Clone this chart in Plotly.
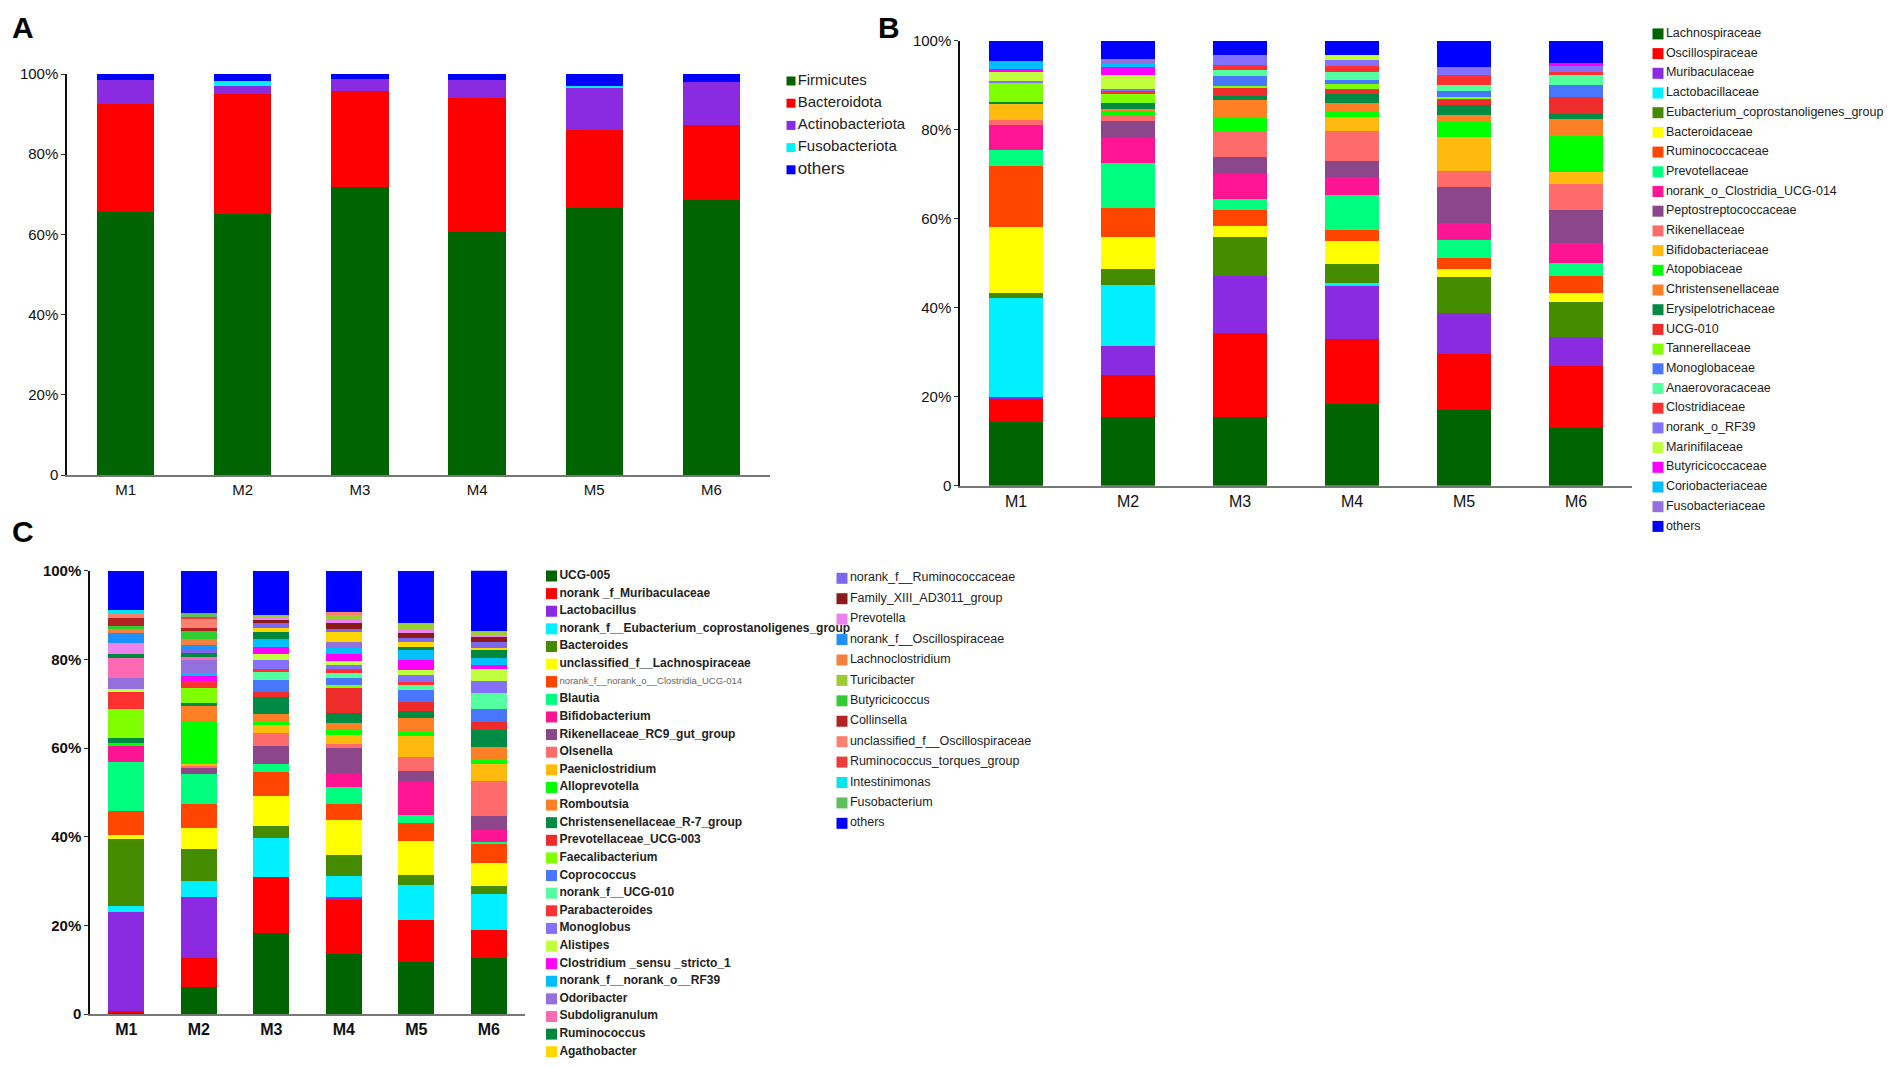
import plotly.graph_objects as go

samples = ["M1", "M2", "M3", "M4", "M5", "M6"]

# ---------------- Panel A (phylum) ----------------
a_names = ["Firmicutes", "Bacteroidota", "Actinobacteriota", "Fusobacteriota", "others"]
a_colors = ["#006400", "#FF0000", "#8A2BE2", "#00F0FF", "#0000FF"]
a_firmicutes = [65.6, 65.0, 71.7, 60.7, 66.5, 68.7]
a_bacteroidota = [27.0, 29.9, 24.1, 33.4, 19.5, 18.6]
a_actinobacteriota = [5.8, 2.0, 3.0, 4.4, 10.7, 10.8]
a_fusobacteriota = [0.0, 1.3, 0.0, 0.0, 0.4, 0.0]
a_others = [1.6, 1.8, 1.2, 1.5, 2.9, 1.9]

# ---------------- Panel B (family) ----------------
b_names = ["Lachnospiraceae", "Oscillospiraceae", "Muribaculaceae", "Lactobacillaceae",
           "Eubacterium_coprostanoligenes_group", "Bacteroidaceae", "Ruminococcaceae",
           "Prevotellaceae", "norank_o_Clostridia_UCG-014", "Peptostreptococcaceae",
           "Rikenellaceae", "Bifidobacteriaceae", "Atopobiaceae", "Christensenellaceae",
           "Erysipelotrichaceae", "UCG-010", "Tannerellaceae", "Monoglobaceae",
           "Anaerovoracaceae", "Clostridiaceae", "norank_o_RF39", "Marinifilaceae",
           "Butyricicoccaceae", "Coriobacteriaceae", "Fusobacteriaceae", "others"]
b_colors = ["#006400", "#FF0000", "#8A2BE2", "#00F0FF", "#458B00", "#FFFF00", "#FF4500",
            "#00FF7F", "#FF1493", "#8B4789", "#FF6A6A", "#FFB90F", "#00FF00", "#FF7F24",
            "#008B45", "#EE2C2C", "#7FFF00", "#4876FF", "#54FF9F", "#FF3030", "#8470FF",
            "#C0FF3E", "#FF00FF", "#00BFFF", "#9370DB", "#0000FF"]
b_m1 = [14.4, 5.0, 0.5, 22.2, 1.1, 15.0, 13.6, 3.6, 5.6, 0, 1.1, 3.7, 0, 0, 0.5, 0, 4.2, 0, 0, 0, 0.5, 2.0, 0.7, 1.7, 0, 4.6]
b_m2 = [15.5, 9.4, 6.6, 13.7, 3.4, 7.2, 6.6, 10.1, 5.6, 3.9, 1.1, 0, 1.0, 0.5, 1.3, 0, 2.2, 0, 0, 0.7, 0.4, 3.2, 1.8, 0.6, 1.2, 4.0]
b_m3 = [15.4, 19.0, 12.7, 0, 8.7, 2.5, 3.7, 2.5, 5.6, 3.7, 5.8, 0, 3.0, 4.0, 1.0, 1.9, 0.4, 2.2, 1.3, 1.1, 2.2, 0, 0, 0, 0, 3.3]
b_m4 = [18.4, 14.5, 12.0, 0.7, 4.3, 5.1, 2.5, 7.9, 3.9, 3.6, 6.7, 3.3, 1.1, 2.1, 2.0, 1.1, 1.0, 0.9, 1.9, 1.4, 1.2, 1.1, 0, 0, 0, 3.3]
b_m5 = [17.0, 12.5, 9.2, 0, 8.3, 1.8, 2.3, 4.1, 3.8, 8.2, 3.5, 7.7, 3.3, 1.6, 2.2, 1.3, 0.6, 1.4, 1.3, 2.2, 1.9, 0, 0, 0, 0, 5.8]
b_m6 = [13.0, 14.0, 6.5, 0, 7.8, 1.9, 3.9, 2.9, 4.5, 7.5, 5.8, 2.8, 8.0, 3.7, 1.2, 3.9, 0, 2.7, 2.1, 0.8, 1.6, 0, 0.3, 0, 0, 5.1]

# ---------------- Panel C (genus) ----------------
c_names = ["UCG-005", "norank _f_Muribaculaceae", "Lactobacillus",
           "norank_f__Eubacterium_coprostanoligenes_group", "Bacteroides",
           "unclassified_f__Lachnospiraceae", "norank_f__norank_o__Clostridia_UCG-014",
           "Blautia", "Bifidobacterium", "Rikenellaceae_RC9_gut_group", "Olsenella",
           "Paeniclostridium", "Alloprevotella", "Romboutsia", "Christensenellaceae_R-7_group",
           "Prevotellaceae_UCG-003", "Faecalibacterium", "Coprococcus", "norank_f__UCG-010",
           "Parabacteroides", "Monoglobus", "Alistipes", "Clostridium _sensu _stricto_1",
           "norank_f__norank_o__RF39", "Odoribacter", "Subdoligranulum", "Ruminococcus",
           "Agathobacter", "norank_f__Ruminococcaceae", "Family_XIII_AD3011_group",
           "Prevotella", "norank_f__Oscillospiraceae", "Lachnoclostridium", "Turicibacter",
           "Butyricicoccus", "Collinsella", "unclassified_f__Oscillospiraceae",
           "Ruminococcus_torques_group", "Intestinimonas", "Fusobacterium", "others"]
c_colors = ["#006400", "#FF0000", "#8A2BE2", "#00F0FF", "#458B00", "#FFFF00", "#FF4500",
            "#00FF7F", "#FF1493", "#8B4789", "#FF6A6A", "#FFB90F", "#00FF00", "#FF7F24",
            "#008B45", "#EE2C2C", "#7FFF00", "#4876FF", "#54FF9F", "#FF3030", "#8470FF",
            "#C0FF3E", "#FF00FF", "#00BFFF", "#9370DB", "#FF69B4", "#00873E", "#FFD700",
            "#7B68EE", "#8B1A1A", "#EE82EE", "#1E90FF", "#F4813F", "#9ACD32", "#32CD32",
            "#B22222", "#FA8072", "#EE3B3B", "#00E5EE", "#5FBF5F", "#0000FF"]
c_m1 = [0.2, 0.5, 22.4, 1.3, 15.0, 1.0, 5.5, 11.0, 3.6, 0, 0, 0, 0.7, 0, 1.0, 0, 6.6, 0, 0, 3.9,
        0, 0.7, 0, 0, 2.4, 4.5, 1.0, 0, 0, 0, 2.4, 2.3, 0.8, 0, 0.8, 1.8, 0.9, 0, 0.9, 0, 8.8]
c_m2 = [6.0, 6.6, 13.7, 3.8, 7.2, 4.6, 5.5, 6.7, 0, 1.3, 0.5, 0.5, 9.7, 3.4, 0.6, 0, 3.4, 0, 0, 1.7,
        0, 0, 1.3, 0.4, 3.2, 0.4, 1.0, 0, 0.6, 0, 0, 1.1, 1.3, 0, 2.0, 0.5, 2.0, 0.5, 0, 1.0, 9.5]
c_m3 = [18.2, 12.8, 0, 8.8, 2.6, 6.8, 5.5, 1.6, 0, 4.2, 3.0, 1.9, 0.4, 1.9, 3.8, 1.1, 0, 2.8, 2.0, 0.4,
        2.1, 1.4, 1.4, 1.9, 0, 0, 1.5, 1.0, 1.1, 0.8, 0.4, 0, 0, 0.7, 0, 0, 0, 0, 0, 0, 9.9]
c_m4 = [13.5, 12.2, 0.6, 4.9, 4.7, 7.9, 3.6, 3.7, 3.0, 5.8, 1.0, 2.0, 1.1, 1.7, 2.2, 5.9, 0.4, 1.7, 1.1, 0.8,
        1.0, 0.9, 1.6, 1.3, 1.3, 0, 0, 2.3, 0.6, 1.5, 0.6, 0, 0, 1.1, 0, 0, 0.6, 0, 0, 0, 9.4]
c_m5 = [11.8, 9.3, 0, 8.1, 2.2, 7.6, 4.0, 1.9, 7.5, 2.4, 3.1, 4.9, 0.9, 3.0, 1.7, 2.0, 0, 2.6, 1.4, 0.4,
        1.7, 1.1, 2.3, 2.1, 0, 0, 0.8, 1.1, 1.0, 1.0, 0.7, 0, 0, 1.5, 0, 0, 0, 0, 0, 0, 11.9]
c_m6 = [12.6, 6.3, 0, 8.1, 1.9, 5.1, 4.3, 0.5, 2.6, 3.2, 8.0, 3.9, 0.8, 3.0, 3.8, 1.7, 0, 3.0, 3.5, 0,
        2.8, 2.8, 0.8, 1.6, 0, 0, 1.7, 0.5, 1.4, 1.1, 0.5, 0, 0, 0.8, 0, 0, 0, 0, 0, 0, 14.0]
c_col1_count = 28

ytick_vals = [0, 20, 40, 60, 80, 100]
ytick_text = ["0", "20%", "40%", "60%", "80%", "100%"]

FONT = "Liberation Sans, Arial, sans-serif"
W, H = 1904, 1067

fig = go.Figure()

# ---- bars ----
a_series = [a_firmicutes, a_bacteroidota, a_actinobacteriota, a_fusobacteriota, a_others]
for name, col, vals in zip(a_names, a_colors, a_series):
    fig.add_trace(go.Bar(x=samples, y=vals, name=name, marker=dict(color=col, line=dict(width=0)),
                         width=0.49, xaxis="x", yaxis="y", showlegend=False))

b_samples = [b_m1, b_m2, b_m3, b_m4, b_m5, b_m6]
for i, (name, col) in enumerate(zip(b_names, b_colors)):
    vals = [s[i] for s in b_samples]
    fig.add_trace(go.Bar(x=samples, y=vals, name=name, marker=dict(color=col, line=dict(width=0)),
                         width=0.49, xaxis="x2", yaxis="y2", showlegend=False))

c_samples = [c_m1, c_m2, c_m3, c_m4, c_m5, c_m6]
for i, (name, col) in enumerate(zip(c_names, c_colors)):
    vals = [s[i] for s in c_samples]
    fig.add_trace(go.Bar(x=samples, y=vals, name=name, marker=dict(color=col, line=dict(width=0)),
                         width=0.5, xaxis="x3", yaxis="y3", showlegend=False))


# ---- legends drawn as marker+text scatters on hidden axes ----
def legend_trace(names, colors, xa, ya, size, fsize, weight="normal", color="#222222", hide=None,
                 offset=0):
    texts = [("" if (hide is not None and i in hide) else n) for i, n in enumerate(names)]
    return go.Scatter(x=[0] * len(names), y=[offset + i for i in range(len(names))],
                      mode="markers+text",
                      marker=dict(symbol="square", size=size, color=colors, line=dict(width=0)),
                      text=texts, textposition="middle right",
                      textfont=dict(family=FONT, size=fsize, color=color, weight=weight),
                      cliponaxis=False, hoverinfo="skip", showlegend=False,
                      xaxis=xa, yaxis=ya)


fig.add_trace(legend_trace(a_names[:4], a_colors[:4], "x4", "y4", 9, 15))
fig.add_trace(legend_trace(a_names[4:], a_colors[4:], "x4", "y4", 9, 17, offset=4))
fig.add_trace(legend_trace(b_names, b_colors, "x5", "y5", 11, 12.5))
fig.add_trace(legend_trace(c_names[:c_col1_count], c_colors[:c_col1_count], "x6", "y6", 11, 12,
                           weight="bold", hide={6}))
fig.add_trace(legend_trace(c_names[6:7], c_colors[6:7], "x6", "y6", 11, 9.5,
                           color="#666666", offset=6))
fig.add_trace(legend_trace(c_names[c_col1_count:], c_colors[c_col1_count:], "x7", "y7", 11, 12.5))


def px_x(p):
    return p / W


def px_y(p):
    return 1 - p / H


def bar_xaxis(x0, x1, size, bold=False):
    return dict(domain=[px_x(x0), px_x(x1)], type="category", range=[-0.5, 5.5],
                showline=True, linecolor="#777777", linewidth=1.5, ticks="", showgrid=False,
                zeroline=False, fixedrange=True, automargin=False,
                tickfont=dict(family=FONT, size=size, color="#111111",
                              weight="bold" if bold else "normal"))


def bar_yaxis(y0, y1, anchor, size, bold=False):
    return dict(domain=[px_y(y0), px_y(y1)], range=[0, 100], anchor=anchor,
                tickvals=ytick_vals, ticktext=ytick_text, ticks="outside", ticklen=4,
                tickcolor="#333333", showline=True, linecolor="#111111", linewidth=1.5,
                showgrid=False, zeroline=False, fixedrange=True, automargin=False,
                tickfont=dict(family=FONT, size=size, color="#111111",
                              weight="bold" if bold else "normal"))


def legend_axes(x_center, top, spacing, n):
    xa = dict(domain=[px_x(x_center), px_x(x_center) + 0.05], range=[0, 1], visible=False,
              fixedrange=True, automargin=False)
    bottom = top + spacing * n
    ya = dict(domain=[px_y(bottom), px_y(top)], range=[n - 0.5, -0.5], visible=False,
              fixedrange=True, automargin=False)
    return xa, ya


lx4, ly4 = legend_axes(791, 81 - 11.1, 22.2, 5)
lx5, ly5 = legend_axes(1658, 33.9 - 9.85, 19.7, len(b_names))
lx6, ly6 = legend_axes(551.5, 576 - 8.81, 17.62, c_col1_count)
lx7, ly7 = legend_axes(842, 578.3 - 10.21, 20.42, len(c_names) - c_col1_count)
ly4["anchor"] = "x4"; lx4["anchor"] = "y4"
ly5["anchor"] = "x5"; lx5["anchor"] = "y5"
ly6["anchor"] = "x6"; lx6["anchor"] = "y6"
ly7["anchor"] = "x7"; lx7["anchor"] = "y7"

xa1 = bar_xaxis(67, 770, 15); xa1["anchor"] = "y"
xa2 = bar_xaxis(960, 1632, 16); xa2["anchor"] = "y2"
xa3 = bar_xaxis(90, 525, 16, bold=True); xa3["anchor"] = "y3"

fig.update_layout(
    width=W, height=H, autosize=False,
    margin=dict(l=0, r=0, t=0, b=0, pad=0, autoexpand=False),
    paper_bgcolor="white", plot_bgcolor="white",
    barmode="stack",
    font=dict(family=FONT, color="#111111"),
    xaxis=xa1, yaxis=bar_yaxis(475, 74, "x", 15),
    xaxis2=xa2, yaxis2=bar_yaxis(485.7, 40.7, "x2", 15),
    xaxis3=xa3, yaxis3=bar_yaxis(1014, 570.7, "x3", 15, bold=True),
    xaxis4=lx4, yaxis4=ly4,
    xaxis5=lx5, yaxis5=ly5,
    xaxis6=lx6, yaxis6=ly6,
    xaxis7=lx7, yaxis7=ly7,
    annotations=[
        dict(text="A", x=px_x(10), y=px_y(28), xref="paper", yref="paper", xanchor="left",
             yanchor="middle", showarrow=False, font=dict(family=FONT, size=30, color="black", weight="bold")),
        dict(text="B", x=px_x(876), y=px_y(28), xref="paper", yref="paper", xanchor="left",
             yanchor="middle", showarrow=False, font=dict(family=FONT, size=30, color="black", weight="bold")),
        dict(text="C", x=px_x(10), y=px_y(531), xref="paper", yref="paper", xanchor="left",
             yanchor="middle", showarrow=False, font=dict(family=FONT, size=30, color="black", weight="bold")),
    ],
)

fig.write_html("out.html", config={"displayModeBar": False},
               post_script="document.body.style.margin='0';document.body.style.overflow='hidden';")
